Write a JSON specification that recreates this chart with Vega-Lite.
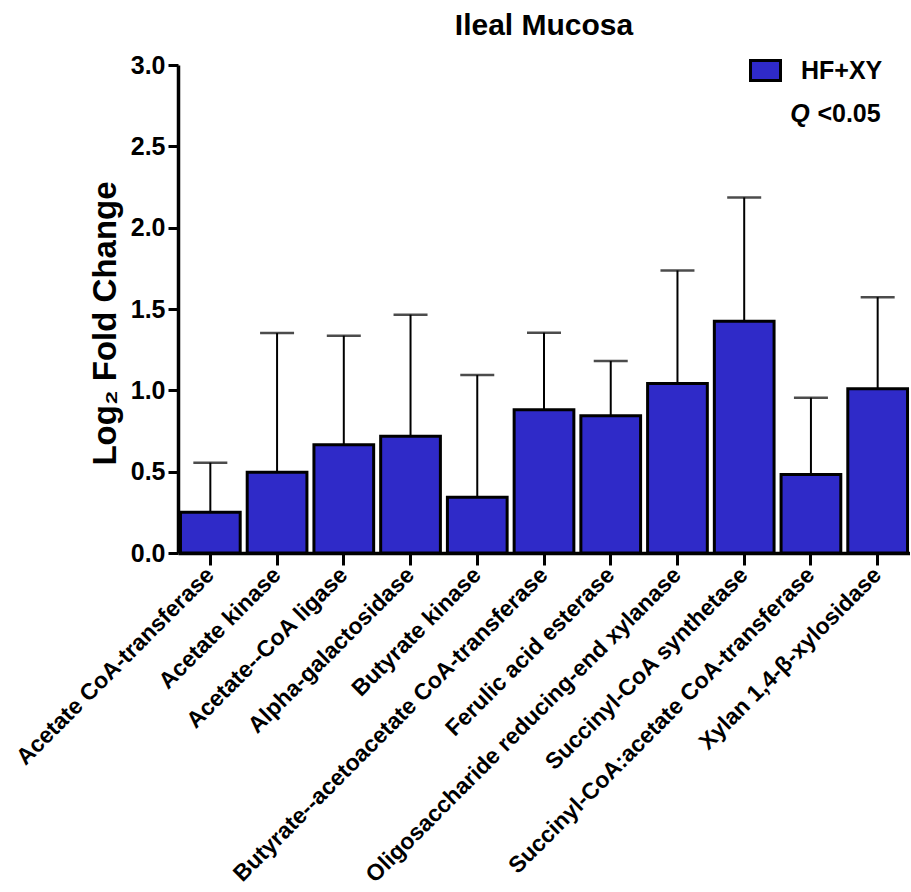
{
  "$schema": "https://vega.github.io/schema/vega-lite/v6.json",
  "autosize": "none",
  "padding": {"left": 178, "top": 65, "right": 0, "bottom": 339},
  "width": 732,
  "height": 488,
  "background": "white",
  "title": {
    "text": "Ileal Mucosa",
    "font": "Liberation Sans",
    "fontSize": 30,
    "fontWeight": "bold",
    "color": "black",
    "anchor": "middle",
    "frame": "group",
    "baseline": "alphabetic",
    "offset": -12
  },
  "data": {
    "values": [
      {"gene": "Acetate CoA-transferase", "value": 0.25, "upper": 0.555, "group": "HF+XY"},
      {"gene": "Acetate kinase", "value": 0.497, "upper": 1.352, "group": "HF+XY"},
      {"gene": "Acetate--CoA ligase", "value": 0.666, "upper": 1.336, "group": "HF+XY"},
      {"gene": "Alpha-galactosidase", "value": 0.717, "upper": 1.465, "group": "HF+XY"},
      {"gene": "Butyrate kinase", "value": 0.342, "upper": 1.094, "group": "HF+XY"},
      {"gene": "Butyrate--acetoacetate CoA-transferase", "value": 0.881, "upper": 1.354, "group": "HF+XY"},
      {"gene": "Ferulic acid esterase", "value": 0.844, "upper": 1.18, "group": "HF+XY"},
      {"gene": "Oligosaccharide reducing-end xylanase", "value": 1.042, "upper": 1.737, "group": "HF+XY"},
      {"gene": "Succinyl-CoA synthetase", "value": 1.424, "upper": 2.186, "group": "HF+XY"},
      {"gene": "Succinyl-CoA:acetate CoA-transferase", "value": 0.482, "upper": 0.955, "group": "HF+XY"},
      {"gene": "Xylan 1,4-β-xylosidase", "value": 1.01, "upper": 1.573, "group": "HF+XY"}
    ]
  },
  "encoding": {
    "x": {
      "field": "gene",
      "type": "nominal",
      "sort": null,
      "scale": {"paddingInner": 0.105, "paddingOuter": 0.037},
      "axis": {
        "title": null,
        "labelAngle": -45,
        "labelAlign": "right",
        "labelBaseline": "middle",
        "labelFont": "Liberation Sans",
        "labelFontSize": 23,
        "labelFontWeight": "bold",
        "labelColor": "black",
        "labelPadding": 6,
        "labelLimit": 0,
        "domainColor": "black",
        "domainWidth": 3.5,
        "tickColor": "black",
        "tickWidth": 3,
        "tickSize": 12,
        "labelOverlap": false
      }
    }
  },
  "layer": [
    {
      "mark": {"type": "rule", "color": "black", "strokeWidth": 2},
      "encoding": {
        "y": {"field": "value", "type": "quantitative"},
        "y2": {"field": "upper"}
      }
    },
    {
      "mark": {"type": "tick", "color": "black", "size": 34, "thickness": 2.5},
      "encoding": {
        "y": {"field": "upper", "type": "quantitative"}
      }
    },
    {
      "mark": {"type": "bar", "stroke": "black", "strokeWidth": 3, "opacity": 1},
      "encoding": {
        "y": {
          "field": "value",
          "type": "quantitative",
          "scale": {"domain": [0, 3], "nice": false},
          "axis": {
            "title": "Log₂ Fold Change",
            "titleFont": "Liberation Sans",
            "titleFontSize": 33,
            "titleFontWeight": "bold",
            "titleColor": "black",
            "titlePadding": 8,
            "titleY": 258,
            "values": [0, 0.5, 1, 1.5, 2, 2.5, 3],
            "format": ".1f",
            "grid": false,
            "labelFont": "Liberation Sans",
            "labelFontSize": 25,
            "labelFontWeight": "bold",
            "labelColor": "black",
            "labelPadding": 3,
            "domainColor": "black",
            "domainWidth": 3.5,
            "tickColor": "black",
            "tickWidth": 3,
            "tickSize": 10
          }
        },
        "fill": {
          "field": "group",
          "type": "nominal",
          "scale": {"range": ["#2F2AC8"]},
          "legend": {
            "title": null,
            "orient": "none",
            "legendX": 575,
            "legendY": -7,
            "padding": 0,
            "symbolType": "M-1.5,-1H1.5V1H-1.5Z",
            "symbolSize": 400,
            "symbolStrokeColor": "black",
            "symbolStrokeWidth": 3,
            "symbolOpacity": 1,
            "labelFont": "Liberation Sans",
            "labelFontSize": 25,
            "labelFontWeight": "bold",
            "labelColor": "black",
            "labelOffset": 23
          }
        }
      }
    },
    {
      "data": {"values": [{}]},
      "mark": {"type": "text", "font": "Liberation Sans", "fontSize": 25, "fontWeight": "bold", "align": "right", "baseline": "alphabetic", "dx": 3, "color": "black"},
      "encoding": {
        "x": {"datum": "Xylan 1,4-β-xylosidase"},
        "y": {"datum": 2.649},
        "text": {"value": "<0.05"}
      }
    },
    {
      "data": {"values": [{}]},
      "mark": {"type": "text", "font": "Liberation Sans", "fontSize": 25, "fontWeight": "bold", "fontStyle": "italic", "align": "right", "baseline": "alphabetic", "dx": -68, "color": "black"},
      "encoding": {
        "x": {"datum": "Xylan 1,4-β-xylosidase"},
        "y": {"datum": 2.649},
        "text": {"value": "Q"}
      }
    }
  ],
  "config": {
    "view": {"stroke": null},
    "axis": {"grid": false}
  }
}
